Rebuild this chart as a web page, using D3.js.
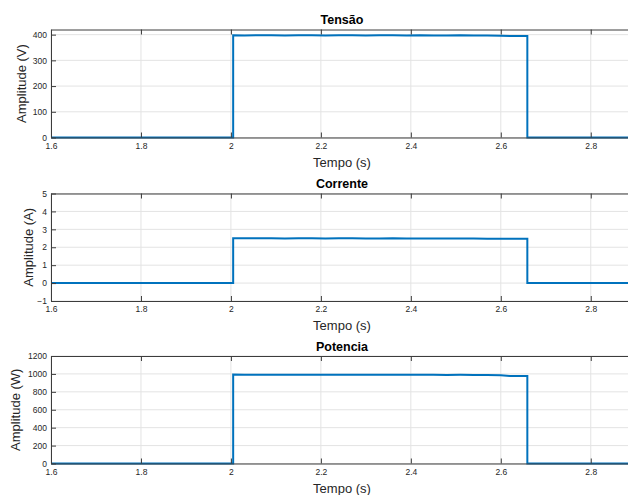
<!DOCTYPE html>
<html>
<head>
<meta charset="utf-8">
<script src="https://d3js.org/d3.v7.min.js"></script>
<style>
  html, body { margin: 0; padding: 0; background: #ffffff; }
  svg { display: block; font-family: "Liberation Sans", Arial, Helvetica, sans-serif; }
</style>
</head>
<body>
<svg id="fig" width="628" height="495"></svg>
<script>
// Sampled time instants (s)
const tempo = [1.6, 2.005, 2.005, 2.03, 2.06, 2.09, 2.12, 2.15, 2.18, 2.21, 2.24, 2.27, 2.30, 2.33, 2.36, 2.39, 2.42, 2.45, 2.48, 2.51, 2.54, 2.57, 2.60, 2.62, 2.659, 2.659, 2.95];
// Voltage (V)
const tensao = [0, 0, 398, 397, 398, 398, 397, 398, 398, 397, 398, 398, 397, 398, 398, 397, 398, 397, 397, 398, 397, 397, 396, 395, 395, 0, 0];
// Current (A)
const corrente = [0, 0, 2.50, 2.50, 2.50, 2.50, 2.49, 2.50, 2.50, 2.49, 2.50, 2.50, 2.49, 2.49, 2.50, 2.49, 2.49, 2.49, 2.49, 2.49, 2.49, 2.48, 2.48, 2.48, 2.48, 0, 0];
// Power (W)
const potencia = [0, 0, 992, 991, 992, 991, 991, 992, 991, 991, 992, 991, 990, 991, 991, 990, 990, 990, 989, 990, 989, 988, 986, 978, 978, 0, 0];

const xTicks = [1.6, 1.8, 2, 2.2, 2.4, 2.6, 2.8];
const xTickLabels = ["1.6", "1.8", "2", "2.2", "2.4", "2.6", "2.8"];

const panels = [
  { title: "Tensão", ylabel: "Amplitude (V)", values: tensao, domain: [0, 420], ticks: [0, 100, 200, 300, 400], top: 29.5, bottom: 137.5, ylabelX: 21 },
  { title: "Corrente", ylabel: "Amplitude (A)", values: corrente, domain: [-1, 5], ticks: [-1, 0, 1, 2, 3, 4, 5], top: 193.5, bottom: 301, ylabelX: 28 },
  { title: "Potencia", ylabel: "Amplitude (W)", values: potencia, domain: [0, 1200], ticks: [0, 200, 400, 600, 800, 1000, 1200], top: 356, bottom: 463.5, ylabelX: 15 }
];

const svg = d3.select("#fig");
const left = 51, right = 632;
const axisColor = "#3c3c3c", gridColor = "#e3e3e3", lineColor = "#0072BD", textColor = "#262626";

const x = d3.scaleLinear().domain([1.6, 2.8917]).range([left, right]);

panels.forEach((p, i) => {
  const y = d3.scaleLinear().domain(p.domain).range([p.bottom, p.top]);
  const g = svg.append("g");

  const clipId = "clip" + i;
  svg.append("clipPath").attr("id", clipId)
    .append("rect").attr("x", left).attr("y", p.top - 2).attr("width", right - left).attr("height", p.bottom - p.top + 4);

  // grid
  const grid = g.append("g");
  grid.selectAll(".gx").data(xTicks).join("line")
    .attr("x1", d => x(d)).attr("x2", d => x(d))
    .attr("y1", p.top).attr("y2", p.bottom)
    .attr("stroke", gridColor).attr("stroke-width", 1);
  grid.selectAll(".gy").data(p.ticks).join("line")
    .attr("x1", left).attr("x2", right)
    .attr("y1", d => y(d)).attr("y2", d => y(d))
    .attr("stroke", gridColor).attr("stroke-width", 1);

  // data line
  const line = d3.line().x((d, k) => x(tempo[k])).y(d => y(d));
  g.append("path").datum(p.values)
    .attr("clip-path", `url(#${clipId})`)
    .attr("d", line)
    .attr("fill", "none").attr("stroke", lineColor).attr("stroke-width", 2)
    .attr("stroke-linejoin", "miter");

  // axes with inward ticks
  const xb = d3.axisBottom(x).tickValues(xTicks).tickFormat((d, k) => xTickLabels[k]).tickSizeInner(-5).tickSizeOuter(0).tickPadding(5);
  const xa = g.append("g").attr("transform", `translate(0,${p.bottom})`).call(xb);
  const xt = d3.axisTop(x).tickValues(xTicks).tickFormat("").tickSizeInner(-5).tickSizeOuter(0);
  const xta = g.append("g").attr("transform", `translate(0,${p.top})`).call(xt);
  const yl = d3.axisLeft(y).tickValues(p.ticks).tickFormat(d3.format("d")).tickSizeInner(-5).tickSizeOuter(0).tickPadding(4);
  const ya = g.append("g").attr("transform", `translate(${left},0)`).call(yl);

  [xa, xta, ya].forEach(a => {
    a.select(".domain").attr("stroke", axisColor).attr("stroke-width", 1);
    a.selectAll(".tick line").attr("stroke", axisColor).attr("stroke-width", 1);
    a.selectAll(".tick text").attr("fill", textColor).attr("font-size", 8.5)
      .attr("font-family", "Liberation Sans, Arial, sans-serif");
  });

  // title
  g.append("text").attr("x", 342).attr("y", p.top - 5.5)
    .attr("text-anchor", "middle").attr("font-weight", "bold").attr("font-size", 12.5)
    .attr("fill", "#000").text(p.title);

  // x label
  g.append("text").attr("x", 342).attr("y", p.bottom + 29)
    .attr("text-anchor", "middle").attr("font-size", 13)
    .attr("fill", textColor).text("Tempo (s)");

  // y label
  const cy = (p.top + p.bottom) / 2;
  g.append("text").attr("transform", `translate(${p.ylabelX + 4.5},${cy}) rotate(-90)`)
    .attr("text-anchor", "middle").attr("font-size", 13)
    .attr("fill", textColor).text(p.ylabel);
});
</script>
</body>
</html>
